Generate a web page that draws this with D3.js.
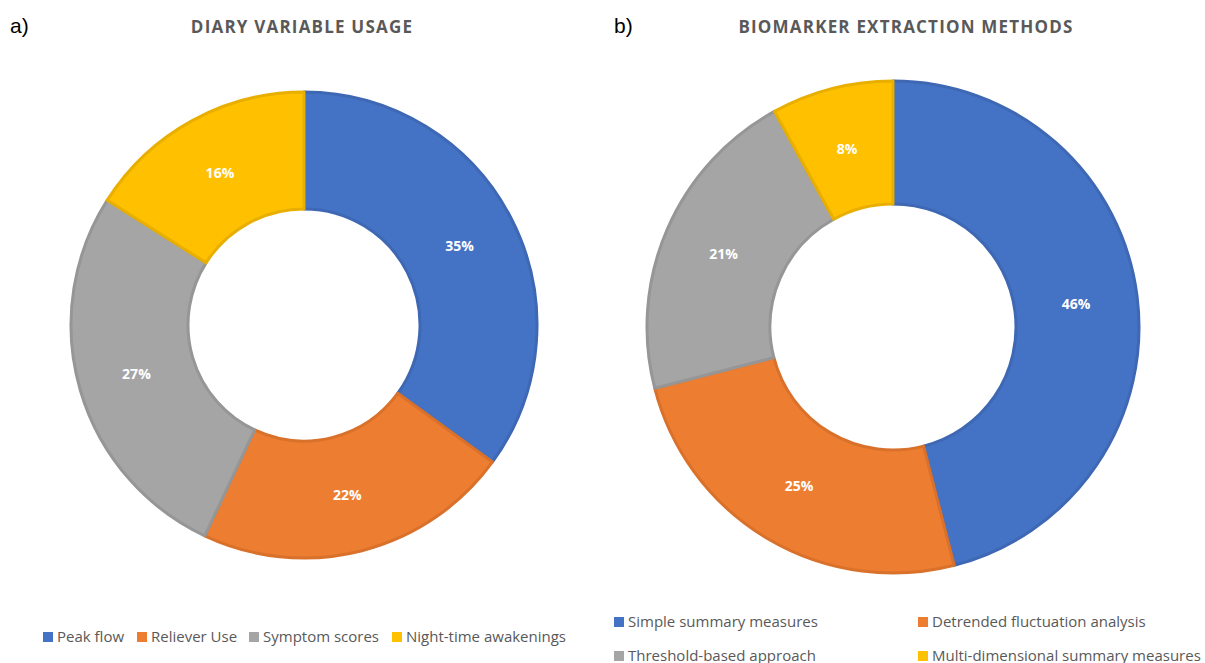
<!DOCTYPE html>
<html>
<head>
<meta charset="utf-8">
<script src="https://cdn.jsdelivr.net/npm/d3@7"></script>
<style>
  body { margin: 0; background: #fff; }
  svg { display: block; }
</style>
</head>
<body>
<div id="chart"></div>
<script>
const diaryLabels = ["Peak flow", "Reliever Use", "Symptom scores", "Night-time awakenings"];
const diaryValues = [35, 22, 27, 16];
const methodLabels = ["Simple summary measures", "Detrended fluctuation analysis", "Threshold-based approach", "Multi-dimensional summary measures"];
const methodValues = [46, 25, 21, 8];

const fills = ["#4472C4", "#ED7D31", "#A5A5A5", "#FFC000"];
const strokes = ["#3E68B4", "#D9712B", "#969696", "#E8AF00"];

const W = 1205, H = 663;
const svg = d3.select("#chart").append("svg")
    .attr("width", W)
    .attr("height", H);

const drawDonut = (opts) => {
    const g = svg.append("g")
        .attr("transform", `translate(${opts.cx},${opts.cy})`);

    const pie = d3.pie().sort(null).value(d => d);
    const arc = d3.arc().innerRadius(opts.r0).outerRadius(opts.r1);
    const mid = d3.arc().innerRadius((opts.r0 + opts.r1) / 2).outerRadius((opts.r0 + opts.r1) / 2);
    const arcs = pie(opts.values);

    g.selectAll("path")
        .data(arcs)
        .enter()
        .append("path")
        .attr("d", arc)
        .attr("fill", (d, i) => fills[i])
        .attr("stroke", (d, i) => strokes[i])
        .attr("stroke-width", 3)
        .attr("stroke-linejoin", "round");

    g.selectAll("text")
        .data(arcs)
        .enter()
        .append("text")
        .attr("transform", d => `translate(${mid.centroid(d)})`)
        .attr("text-anchor", "middle")
        .attr("dy", "0.4em")
        .attr("fill", "#fff")
        .attr("font-family", "Open Sans, sans-serif")
        .attr("font-weight", "bold")
        .attr("font-size", 14)
        .text(d => d.data + "%");

    svg.append("text")
        .attr("x", opts.titleX)
        .attr("y", 33)
        .attr("text-anchor", "middle")
        .attr("fill", "#595959")
        .attr("font-family", "Open Sans, sans-serif")
        .attr("font-weight", "bold")
        .attr("font-size", 17)
        .attr("letter-spacing", 1.2)
        .text(opts.title);

    svg.append("text")
        .attr("x", opts.tagX)
        .attr("y", 33)
        .attr("fill", "#000")
        .attr("font-family", "Liberation Sans, Arial, sans-serif")
        .attr("font-size", 21)
        .text(opts.tag);

    const legend = svg.append("g").attr("class", "legend");
    const items = legend.selectAll("g")
        .data(opts.labels)
        .enter()
        .append("g")
        .attr("transform", (d, i) => `translate(${opts.legendPos[i][0]},${opts.legendPos[i][1]})`);
    items.append("rect")
        .attr("x", 0)
        .attr("y", -10)
        .attr("width", 10)
        .attr("height", 10)
        .attr("fill", (d, i) => fills[i]);
    items.append("text")
        .attr("x", 14)
        .attr("y", 0)
        .attr("fill", "#595959")
        .attr("font-family", "Open Sans, sans-serif")
        .attr("font-size", 15)
        .text(d => d);
};

drawDonut({
    cx: 304, cy: 325, r0: 116, r1: 233,
    values: diaryValues, labels: diaryLabels,
    title: "DIARY VARIABLE USAGE", titleX: 302,
    tag: "a)", tagX: 10,
    legendPos: [[43, 642], [137, 642], [249, 642], [392, 642]]
});

drawDonut({
    cx: 893, cy: 327, r0: 123, r1: 246,
    values: methodValues, labels: methodLabels,
    title: "BIOMARKER EXTRACTION METHODS", titleX: 906,
    tag: "b)", tagX: 614,
    legendPos: [[614, 627], [918, 627], [614, 661], [918, 661]]
});
</script>
</body>
</html>
